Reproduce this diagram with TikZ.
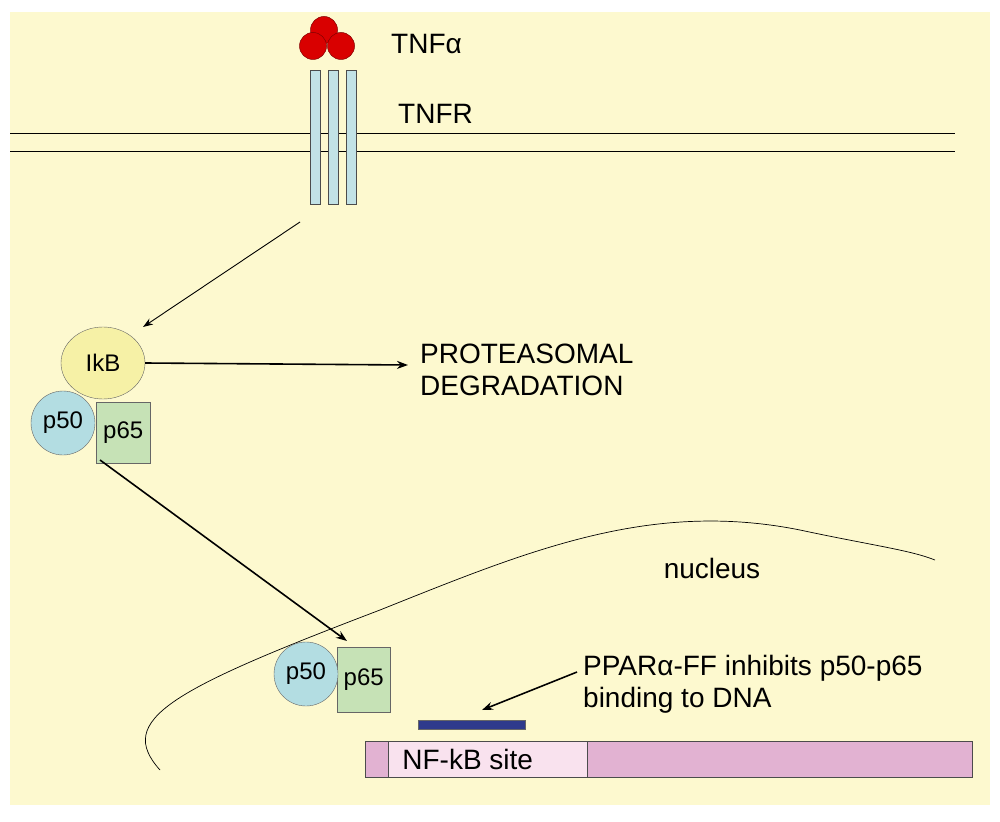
\documentclass[tikz,border=0pt]{standalone}
\usepackage{fontspec}
\setmainfont{Liberation Sans}
\usetikzlibrary{arrows.meta,shapes.geometric}
\begin{document}
\begin{tikzpicture}[x=1pt,y=-1pt,
  lbl/.style={font=\fontsize{28}{32}\selectfont, inner sep=0pt},
  small/.style={font=\fontsize{24}{26}\selectfont, inner sep=0pt},
  bar/.style={draw=black!70, fill=recept, line width=0.8pt},
  arr/.style={-{Stealth[length=11pt,width=8pt]}, line width=1.6pt},
  thin arr/.style={-{Stealth[length=10pt,width=7pt]}, line width=0.9pt}]
\definecolor{bg}{HTML}{FDF9CF}
\definecolor{recept}{HTML}{C2E2E6}
\definecolor{ikb}{HTML}{F6F1A6}
\definecolor{pfifty}{HTML}{B3DDE2}
\definecolor{psixty}{HTML}{C6E2B6}
\definecolor{dna}{HTML}{E2B2D2}
\definecolor{site}{HTML}{F9E2EE}
\definecolor{ppar}{HTML}{2E3A8C}
\useasboundingbox (0,0) rectangle (1000,821);
\fill[bg] (10,12) rectangle (990,805);
% membrane
\draw[line width=0.8pt] (10,133) -- (955,133);
\draw[line width=0.8pt] (10,151) -- (955,151);
\draw[bar] (310,70) rectangle (320,204);
\draw[bar] (328,70) rectangle (338,204);
\draw[bar] (346,70) rectangle (356,204);
\coordinate (rec) at (300,222);
% TNF
\foreach \c in {(324,30),(313,46),(341,46)} \draw[fill=red!85!black, draw=red!50!black, line width=0.5pt] \c circle (13.5);
\node[lbl, anchor=west] (tnfa) at (391,44) {TNFα};
\node[lbl, anchor=west] (tnfr) at (398,114) {TNFR};
% IkB complex
\node[draw=black!60, fill=ikb, ellipse, minimum width=84pt, minimum height=72pt, inner sep=0pt, small] (ikb) at (103,363) {IkB};
\node[draw=black!60, fill=psixty, minimum width=54pt, minimum height=61pt, inner sep=0pt, small, anchor=north west] (p65a) at (96,402) {\raisebox{-6pt}{p65}};
\node[draw=black!60, fill=pfifty, circle, minimum size=64pt, inner sep=0pt, small] (p50a) at (63,423) {p50};
\coordinate (ikbtop) at (143,327);
\draw[thin arr] (rec) -- (ikbtop);
\node[lbl, anchor=west, align=left] (deg) at (420,370) {PROTEASOMAL\\DEGRADATION};
\coordinate (degl) at (408,365);
\draw[arr] (ikb.east) -- (degl);
% nucleus
\draw[line width=0.7pt] (160,770) .. controls (115,720) and (170,690) .. (380,610) .. controls (530,550) and (650,500) .. (800,530) .. controls (870,545) and (910,550) .. (935,560);
\node[lbl, anchor=center] (nuc) at (712,568) {nucleus};
% nuclear complex
\node[draw=black!60, fill=psixty, minimum width=53pt, minimum height=65pt, inner sep=0pt, small, anchor=north west] (p65b) at (337,647) {\raisebox{-6pt}{p65}};
\node[draw=black!60, fill=pfifty, circle, minimum size=64pt, inner sep=0pt, small] (p50b) at (306,674) {p50};
\coordinate (s1) at (100,460);
\coordinate (e1) at (347,641);
\draw[arr] (s1) -- (e1);
% DNA
\node[draw=black!70, fill=dna, minimum width=607pt, minimum height=36pt, inner sep=0pt, anchor=north west] (dna) at (365,741) {};
\node[draw=black!70, fill=site, minimum width=199pt, minimum height=36pt, inner sep=0pt, anchor=north west, lbl] (site) at (388,741) {\hspace*{-40pt}NF-kB site};
\node[fill=ppar, draw=black!60, minimum width=107pt, minimum height=9pt, inner sep=0pt, anchor=north west] (ppar) at (418,720) {};
\node[lbl, anchor=west, align=left] (txt) at (583,684) {PPARα-FF inhibits p50-p65\\binding to DNA};
\coordinate (ts) at (577,672);
\coordinate (te) at (482,710);
\draw[arr] (ts) -- (te);
\end{tikzpicture}
\end{document}
